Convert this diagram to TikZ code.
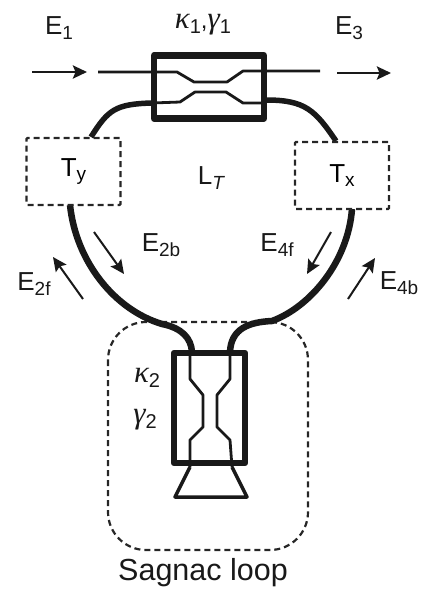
\documentclass[tikz,border=0pt]{standalone}
\usepackage{fontspec}
\setmainfont{Liberation Sans}
\newfontfamily\grk{Liberation Serif}
\usetikzlibrary{arrows.meta}
\newcommand{\lab}[2]{{\fontsize{26}{26}\selectfont #1\raisebox{-4.5pt}{\fontsize{19}{19}\selectfont #2}}}
\newcommand{\grl}[2]{{\fontsize{31}{31}\selectfont\grk\itshape #1}\raisebox{-4.5pt}{\fontsize{20}{20}\selectfont #2}}
\tikzset{
  x=1pt,y=-1pt,
  thickbox/.style={draw=black!90,line width=6.5pt,line join=round},
  fiber/.style={draw=black!90,line width=2.8pt,line join=round},
  thickfiber/.style={draw=black!90,line width=5.5pt},
  thickerfiber/.style={draw=black!90,line width=6.5pt},
  dashbox/.style={draw=black!85,line width=2.2pt,dash pattern=on 6pt off 4pt},
  tbox/.style={dashbox,minimum width=94pt,minimum height=67pt,inner sep=0pt,rounded corners=1pt,anchor=center},
  flow/.style={draw=black!90,line width=2pt,-{Stealth[length=14pt,width=13pt,inset=2.5pt]}},
  flowh/.style={flow,line width=2.7pt},
  txt/.style={inner sep=0pt,text=black!90,anchor=center}
}
\begin{document}
\begin{tikzpicture}
\useasboundingbox (0,0) rectangle (427,592);
% named anchor points
\coordinate (inA) at (32,72); \coordinate (inB) at (87,72);
\coordinate (outA) at (337,73); \coordinate (outB) at (391,73);
\coordinate (a1) at (94,232); \coordinate (a2) at (124,274);
\coordinate (b1) at (83,299); \coordinate (b2) at (53,257);
\coordinate (c1) at (331,232); \coordinate (c2) at (307,274);
\coordinate (d1) at (348,299); \coordinate (d2) at (375,258);
% Sagnac
\draw[dashbox,rounded corners=38pt] (108,322) rectangle (308,550);
% loop fibres
\draw[thickfiber] (152,103) .. controls (115,104) and (108,110) .. (91,137);
\draw[thickfiber] (266,100) .. controls (305,100) and (315,110) .. (336,141);
\draw[thickerfiber] (70,205) .. controls (76,262) and (115,310) .. (162,324) .. controls (182,328) and (191,338) .. (192,352);
\draw[thickerfiber] (352,209) .. controls (348,262) and (310,307) .. (272,321) .. controls (250,322) and (231,328) .. (230,352);
% boxes
\node[tbox] (Ty) at (73.5,171.5) {\lab{T}{y}};
\node[tbox] (Tx) at (342,175.5) {\lab{T}{x}};
% top coupler
\draw[fiber] (98,72) -- (177,72) -- (194,82) -- (227,82) -- (243,71) -- (320,71);
\draw[fiber] (152,103) -- (180,102) -- (195,92) -- (226,92) -- (243,103) -- (266,103);
\draw[thickbox] (154,55.5) rectangle (264,118.5);
% lower coupler
\draw[fiber] (190,350) -- (190,379) -- (203,395) -- (203,427) -- (190,440) -- (190,467);
\draw[fiber] (230,350) -- (230,379) -- (217,395) -- (217,427) -- (230,440) -- (232,467);
\draw[fiber,line width=3.5pt] (190,467) -- (175,497) -- (247,497) -- (232,467);
\draw[thickbox] (174,353) rectangle (245,463);
% arrows
\draw[flowh] (inA) -- (inB);
\draw[flowh] (outA) -- (outB);
\draw[flow] (a1) -- (a2);
\draw[flow] (b1) -- (b2);
\draw[flow] (c1) -- (c2);
\draw[flow] (d1) -- (d2);
% labels
\node[txt] (E1) at (59,28) {\lab{E}{1}};
\node[txt] (E3) at (349,28) {\lab{E}{3}};
\node[txt] (kg) at (203,25) {\grl{κ}{1}{\fontsize{24}{24}\selectfont ,}\grl{γ}{1}};
\node[txt] (LT) at (211,178) {{\fontsize{26}{26}\selectfont L}\raisebox{-4.5pt}{\fontsize{19}{19}\selectfont\itshape T}};
\node[txt] (E2b) at (161,245) {\lab{E}{2b}};
\node[txt] (E4f) at (277,245) {\lab{E}{4f}};
\node[txt] (E2f) at (34,284) {\lab{E}{2f}};
\node[txt] (E4b) at (399,283) {\lab{E}{4b}};
\node[txt] (k2) at (147,378) {\grl{κ}{2}};
\node[txt] (g2) at (145,420) {\grl{γ}{2}};
\node[txt] (SL) at (203,573) {\fontsize{30.5}{30.5}\selectfont Sagnac loop};
\end{tikzpicture}
\end{document}
